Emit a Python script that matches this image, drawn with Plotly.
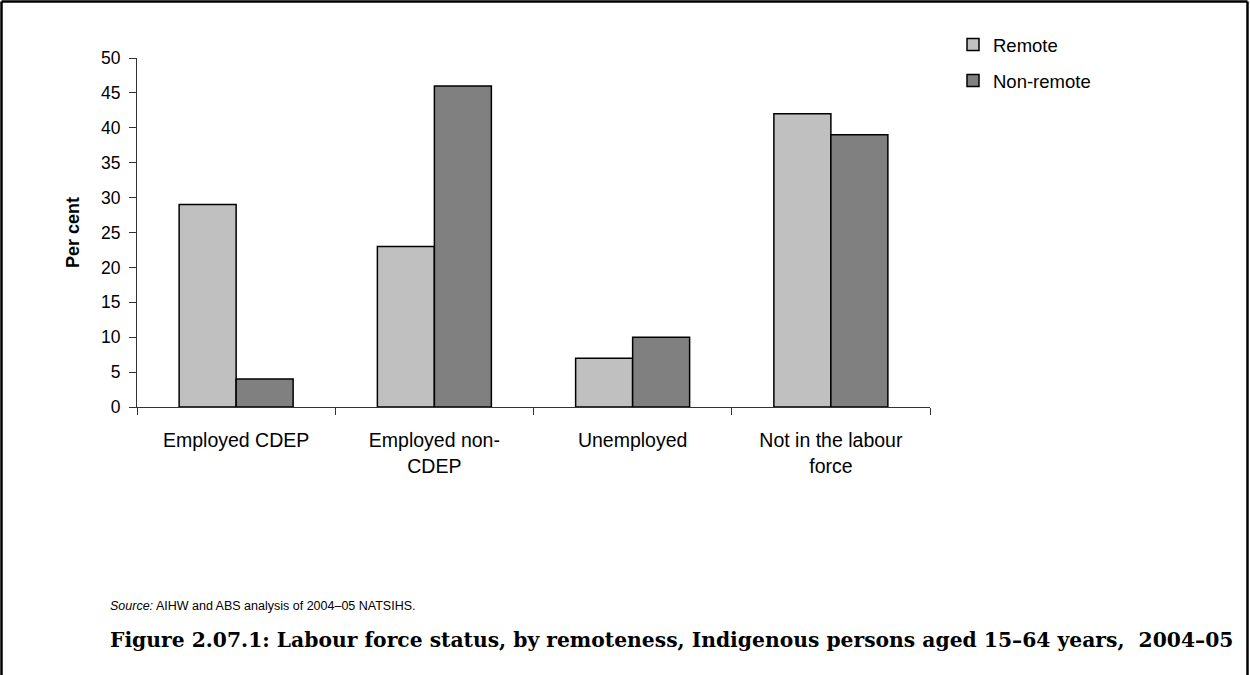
import plotly.graph_objects as go

categories = ["Employed CDEP", "Employed non-<br>CDEP", "Unemployed", "Not in the labour<br>force"]
remote = [29, 23, 7, 42]
non_remote = [4, 46, 10, 39]
y_ticks = [0, 5, 10, 15, 20, 25, 30, 35, 40, 45, 50]

W, H = 1250, 675
L, R, T, B = 137, 930, 58, 407

def px(x):
    return (x - L) / (R - L)

def py(y):
    return (B - y) / (B - T)

fig = go.Figure()
fig.add_trace(go.Bar(x=categories, y=remote, name="Remote", legendgroup="a",
                     marker=dict(color="#C0C0C0", line=dict(color="#000000", width=1.5))))
fig.add_trace(go.Bar(x=categories, y=non_remote, name="Non-remote", legendgroup="b",
                     marker=dict(color="#808080", line=dict(color="#000000", width=1.5))))

fig.update_layout(
    width=W, height=H,
    margin=dict(l=L, r=W - R, t=T, b=H - B, pad=0),
    paper_bgcolor="white", plot_bgcolor="white",
    barmode="group", bargap=0.425, bargroupgap=0,
    font=dict(family="Liberation Sans, Arial", size=17, color="#000000"),
    showlegend=True,
    legend=dict(x=px(953), y=py(26), xanchor="left", yanchor="top",
                font=dict(size=18.5), tracegroupgap=9, bgcolor="rgba(0,0,0,0)",
                itemwidth=30),
    xaxis=dict(showline=True, linecolor="#333333", linewidth=1,
               ticks="outside", tickson="boundaries", ticklen=7, tickcolor="#333333",
               tickfont=dict(size=19.5), ticklabelstandoff=16, showgrid=False),
    yaxis=dict(range=[0, 50], tickvals=y_ticks, showline=True, linecolor="#333333",
               linewidth=1, ticks="outside", ticklen=7, tickcolor="#333333",
               ticklabelstandoff=5,
               showgrid=False, zeroline=False, tickfont=dict(size=17.5),
               title=dict(text="<b>Per cent</b>", font=dict(size=18), standoff=16)),
)

fig.add_annotation(xref="paper", yref="paper", x=px(108), y=py(606), xanchor="left", yanchor="middle",
                   text="<i>Source:</i> AIHW and ABS analysis of 2004–05 NATSIHS.",
                   showarrow=False, font=dict(size=12.5, family="Liberation Sans, Arial"))
fig.add_annotation(xref="paper", yref="paper", x=px(108), y=py(640), xanchor="left", yanchor="middle",
                   text="<b>Figure 2.07.1: Labour force status, by remoteness, Indigenous persons aged 15–64 years,  2004–05</b>",
                   showarrow=False, font=dict(size=20.3, family="DejaVu Serif"))

border = dict(color="#000000", width=2.5)
fig.add_shape(type="line", xref="paper", yref="paper", x0=px(1.5), x1=px(1.5), y0=py(1.5), y1=py(700), line=border)
fig.add_shape(type="line", xref="paper", yref="paper", x0=px(1247.5), x1=px(1247.5), y0=py(1.5), y1=py(700), line=border)
fig.add_shape(type="line", xref="paper", yref="paper", x0=px(1.5), x1=px(1247.5), y0=py(1.5), y1=py(1.5), line=border)

fig.write_html("out.html", config={"displayModeBar": False},
               post_script="document.body.style.margin='0';document.body.style.overflow='hidden';")
